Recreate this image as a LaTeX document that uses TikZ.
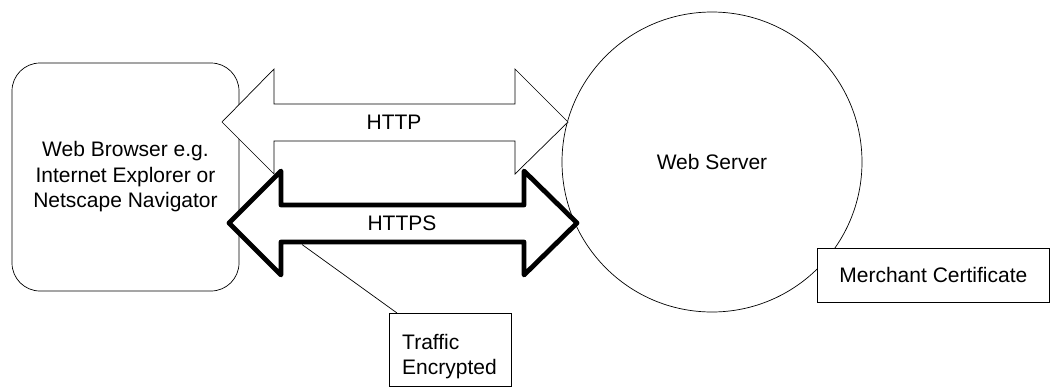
\documentclass[tikz,border=0pt]{standalone}
\usepackage{fontspec}
\setmainfont{Liberation Sans}
\begin{document}
\begin{tikzpicture}[x=1pt,y=-1pt,
  thinline/.style={draw=black,line width=0.7pt},
  boxstyle/.style={thinline,fill=white,rectangle,inner sep=0pt},
  arrowthin/.style={thinline,fill=white,line join=miter},
  arrowthick/.style={draw=black,line width=4.8pt,fill=white,line join=round},
  lbl/.style={inner sep=0pt,font=\fontsize{21}{25.5}\selectfont}]
\useasboundingbox (0,0) rectangle (1050,389);
% browser
\node[thinline,rounded corners=28pt,minimum width=227pt,minimum height=228pt,
      align=center,inner sep=0pt,font=\fontsize{21}{25.5}\selectfont]
  (browser) at (125.5,177) {Web Browser e.g.\\Internet Explorer or\\Netscape Navigator};
% server
\node[thinline,circle,minimum size=300pt,inner sep=0pt,font=\fontsize{21}{25.5}\selectfont]
  (server) at (712,162) {Web Server};
% HTTP arrow
\draw[arrowthin] (222,122) -- (274,69) -- (274,104) -- (515,104) -- (515,69)
  -- (568,122) -- (515,174) -- (515,141) -- (274,141) -- (274,174) -- cycle;
\node[lbl] (http) at (394,122) {HTTP};
% HTTPS arrow
\draw[arrowthick] (229,223) -- (281,171) -- (281,205) -- (524,205) -- (524,171)
  -- (577,223) -- (524,275) -- (524,242) -- (281,242) -- (281,275) -- cycle;
\node[lbl] (https) at (402,223) {HTTPS};
% callout
\coordinate (cstart) at (302,244.5);
\node[boxstyle,anchor=north west,minimum width=122pt,minimum height=73pt]
  (traffic) at (389,313) {};
\node[lbl,anchor=north west,align=left] (trafficlbl) at (402,334)
  {Traffic\\Encrypted};
\coordinate (cend) at (397,313);
\draw[thinline] (cstart) -- (cend);
% merchant certificate
\node[boxstyle,anchor=north west,minimum width=232pt,minimum height=54pt,
      font=\fontsize{21}{25.5}\selectfont]
  (cert) at (817,248) {Merchant Certificate};
\end{tikzpicture}
\end{document}
